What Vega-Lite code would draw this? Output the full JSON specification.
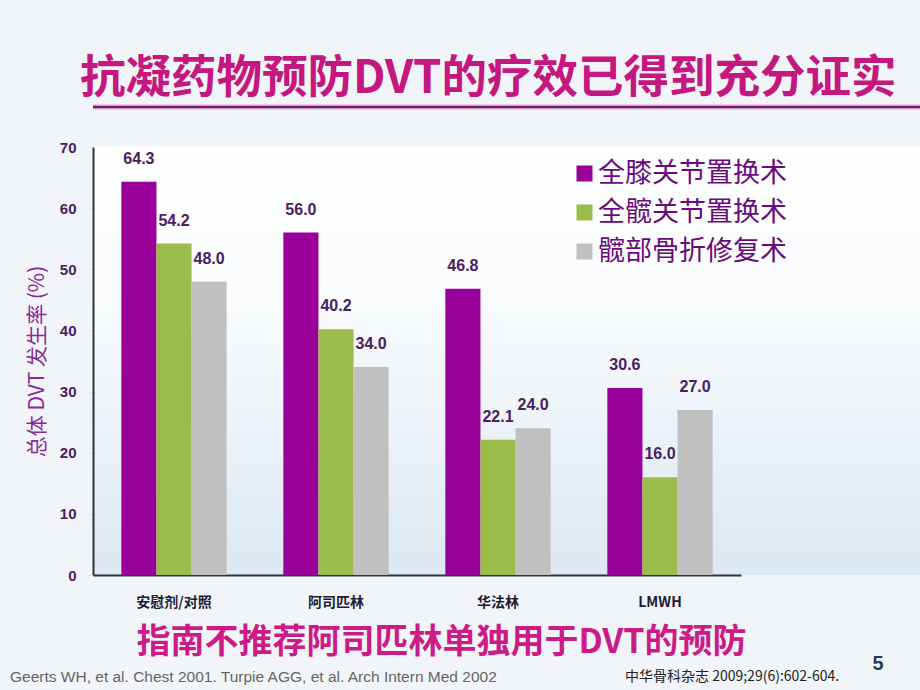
{
  "$schema": "https://vega.github.io/schema/vega-lite/v6.json",
  "background": "#f1f5f9",
  "padding": {"left": 10, "top": 56, "right": 0, "bottom": 0},
  "title": {"text": "抗凝药物预防DVT的疗效已得到充分证实", "anchor": "start", "fontSize": 45.5, "font": "Noto Sans CJK SC", "fontWeight": "bold", "color": "#c4177f", "offset": 2, "dx": 70},
  "config": {"view": {"stroke": null}, "concat": {"spacing": -5}},
  "vconcat": [
    {
      "width": 827,
      "height": 38,
      "data": {"values": [{"item": "title underline"}]},
      "layer": [
        {"mark": {"type": "rule", "color": "#f0a8d8", "strokeWidth": 6, "opacity": 0.6}, "encoding": {"y": {"datum": 1, "type": "quantitative", "scale": {"domain": [0, 1]}, "axis": null}}},
        {"mark": {"type": "rule", "color": "#6e1f62", "strokeWidth": 2.5}, "encoding": {"y": {"datum": 1, "type": "quantitative", "scale": {"domain": [0, 1]}, "axis": null}}}
      ]
    },
    {
      "width": 827,
      "height": 428,
      "view": {"stroke": null, "fill": {"gradient": "linear", "x1": 0, "y1": 0, "x2": 0, "y2": 1, "stops": [{"offset": 0, "color": "#fdfefe"}, {"offset": 0.35, "color": "#fafcfd"}, {"offset": 1, "color": "#dce8f2"}]}},
      "data": {"values": [
        {"drug": "安慰剂/对照", "group": "全膝关节置换术", "rate": 64.3},
        {"drug": "安慰剂/对照", "group": "全髋关节置换术", "rate": 54.2},
        {"drug": "安慰剂/对照", "group": "髋部骨折修复术", "rate": 48.0},
        {"drug": "阿司匹林", "group": "全膝关节置换术", "rate": 56.0},
        {"drug": "阿司匹林", "group": "全髋关节置换术", "rate": 40.2},
        {"drug": "阿司匹林", "group": "髋部骨折修复术", "rate": 34.0},
        {"drug": "华法林", "group": "全膝关节置换术", "rate": 46.8},
        {"drug": "华法林", "group": "全髋关节置换术", "rate": 22.1},
        {"drug": "华法林", "group": "髋部骨折修复术", "rate": 24.0},
        {"drug": "LMWH", "group": "全膝关节置换术", "rate": 30.6},
        {"drug": "LMWH", "group": "全髋关节置换术", "rate": 16.0},
        {"drug": "LMWH", "group": "髋部骨折修复术", "rate": 27.0}
      ]},
      "encoding": {
        "x": {
          "field": "drug", "type": "nominal",
          "sort": ["安慰剂/对照", "阿司匹林", "华法林", "LMWH"],
          "scale": {"paddingInner": 0.35, "paddingOuter": 0.175, "range": [0, 648]},
          "axis": {
            "title": "指南不推荐阿司匹林单独用于DVT的预防",
            "titleFont": "Noto Sans CJK SC", "titleFontSize": 34, "titleFontWeight": "bold", "titleColor": "#cc1a86",
            "titlePadding": 16, "titleX": 348,
            "labelAngle": 0, "labelFont": "Noto Sans CJK SC", "labelFontSize": 14, "labelFontWeight": "bold", "labelColor": "#1d1a33",
            "labelPadding": 20, "ticks": false,
            "domainColor": "#333333", "domainWidth": 2
          }
        },
        "xOffset": {"field": "group", "type": "nominal", "sort": ["全膝关节置换术", "全髋关节置换术", "髋部骨折修复术"]},
        "y": {
          "field": "rate", "type": "quantitative",
          "scale": {"domain": [0, 70]},
          "axis": {
            "title": "总体 DVT 发生率 (%)", "titleFont": "Noto Sans CJK SC", "titleFontSize": 21, "titleFontWeight": "normal", "titleColor": "#8b2a95", "titlePadding": 12,
            "values": [0, 10, 20, 30, 40, 50, 60, 70],
            "labelFont": "Liberation Sans", "labelFontSize": 15, "labelFontWeight": "bold", "labelColor": "#4a2060", "labelPadding": 12,
            "grid": false, "tickColor": "#e6e6e6", "tickSize": 5,
            "domainColor": "#333333", "domainWidth": 2
          }
        }
      },
      "layer": [
        {
          "mark": {"type": "bar"},
          "encoding": {
            "color": {
              "field": "group", "type": "nominal",
              "sort": ["全膝关节置换术", "全髋关节置换术", "髋部骨折修复术"],
              "scale": {"domain": ["全膝关节置换术", "全髋关节置换术", "髋部骨折修复术"], "range": ["#990099", "#9bbb4a", "#c0c0c0"]},
              "legend": {
                "title": null, "orient": "none", "legendX": 478, "legendY": 53,
                "symbolType": "square", "symbolSize": 256, "symbolStrokeWidth": 0,
                "labelFont": "Noto Sans CJK SC", "labelFontSize": 27, "labelColor": "#6b0a7c", "labelLimit": 0,
                "rowPadding": 11, "labelOffset": 0
              }
            }
          }
        },
        {
          "mark": {"type": "text", "dy": -15, "baseline": "bottom", "font": "Liberation Sans", "fontSize": 16, "fontWeight": "bold", "color": "#4a2060"},
          "encoding": {"text": {"field": "rate", "type": "quantitative", "format": ".1f"}}
        }
      ]
    },
    {
      "width": 648,
      "height": 20,
      "data": {"values": [
        {"slot": "L", "row": "b", "t": "Geerts WH, et al. Chest 2001.   Turpie AGG, et al. Arch Intern Med 2002"},
        {"slot": "R", "row": "b", "t": "中华骨科杂志 2009;29(6):602-604."},
        {"slot": "P", "row": "a", "t": "5"}
      ]},
      "encoding": {
        "x": {"field": "slot", "type": "nominal", "scale": {"type": "point", "domain": ["L", "R", "P"], "range": [-83, 785], "padding": 0}, "axis": null},
        "y": {"field": "row", "type": "nominal", "scale": {"type": "point", "domain": ["a", "b"], "range": [-12, 1], "padding": 0}, "axis": null},
        "text": {"field": "t", "type": "nominal"}
      },
      "layer": [
        {"transform": [{"filter": "datum.slot === 'L'"}], "mark": {"type": "text", "align": "left", "font": "Liberation Sans", "fontSize": 15.5, "color": "#666666"}},
        {"transform": [{"filter": "datum.slot === 'R'"}], "mark": {"type": "text", "align": "left", "dx": 181, "font": "Noto Sans CJK SC", "fontSize": 14, "color": "#222222"}},
        {"transform": [{"filter": "datum.slot === 'P'"}], "mark": {"type": "text", "align": "center", "font": "Liberation Sans", "fontSize": 20, "fontWeight": "bold", "color": "#2a3a5a"}}
      ]
    }
  ]
}
